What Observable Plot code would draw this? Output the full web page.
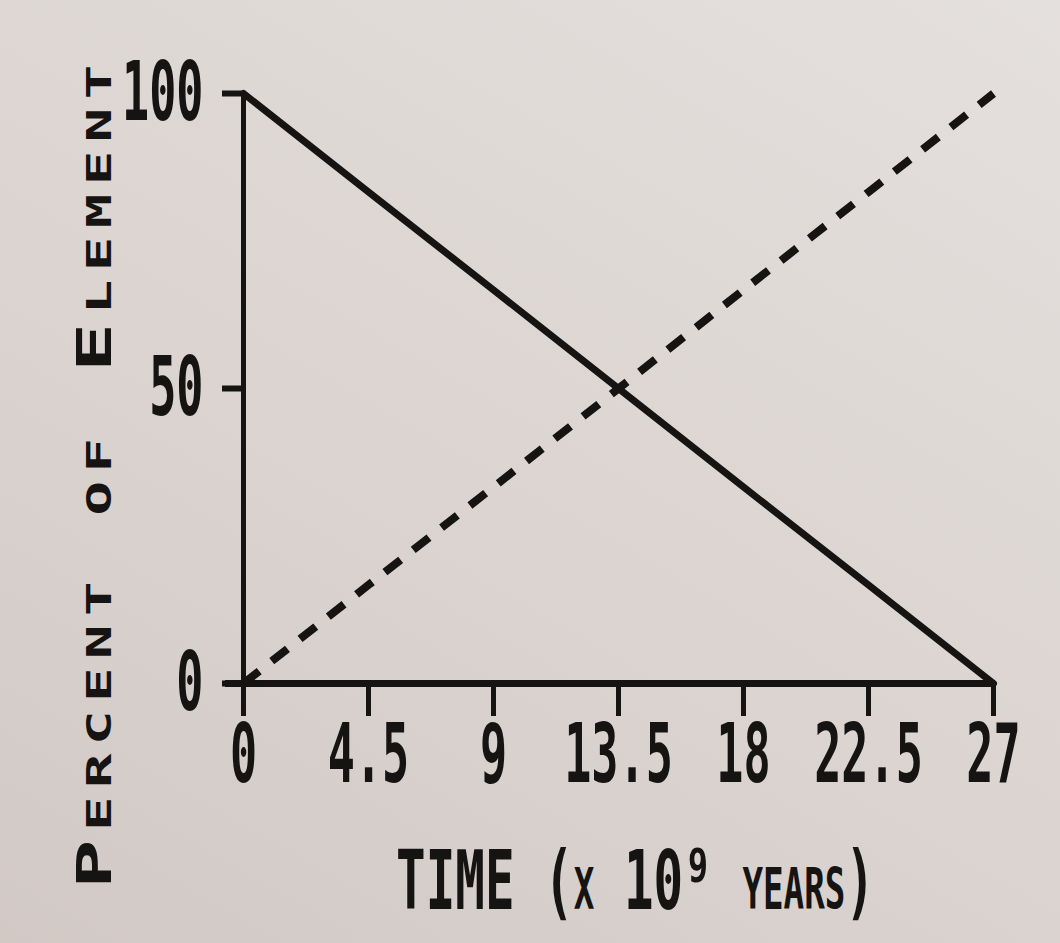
<!DOCTYPE html>
<html>
<head>
<meta charset="utf-8">
<script src="https://cdn.jsdelivr.net/npm/d3@7"></script>
<script src="https://cdn.jsdelivr.net/npm/@observablehq/plot@0.6"></script>
<style>
  html, body { margin: 0; padding: 0; }
  body {
    width: 1060px; height: 943px; overflow: hidden;
    background: linear-gradient(30deg, #d2c9c5 0%, #dbd4d1 45%, #e4e0dd 100%);
  }
  #chart svg { display: block; background: transparent; }
</style>
</head>
<body>
<div id="chart"></div>
<script>
// time in units of 10^9 years
const time = [0, 4.5, 9, 13.5, 18, 22.5, 27];
// percent of parent element left (solid) and of daughter element formed (dotted)
const parent = [100, 83.3, 66.7, 50, 33.3, 16.7, 0];
const daughter = [0, 16.7, 33.3, 50, 66.7, 83.3, 100];

const xTicks = [0, 4.5, 9, 13.5, 18, 22.5, 27];
const yTicks = [0, 50, 100];

const xLabel = "TIME (x 10⁹ years)";
const yLabel = "Percent of Element";

const ink = "#161313";
const mono = "'DejaVu Sans Mono', 'Liberation Mono', monospace";

const parentData = time.map((t, i) => ({t, v: parent[i]}));
const daughterData = time.map((t, i) => ({t, v: daughter[i]}));

let chart = Plot.plot({
  width: 1060,
  height: 943,
  marginLeft: 243,
  marginRight: 67,
  marginTop: 93,
  marginBottom: 260,
  x: {domain: [0, 27]},
  y: {domain: [0, 100]},
  style: {
    fontFamily: mono,
    fontSize: "82px",
    fontWeight: "bold",
    color: ink,
    background: "transparent",
  },
  marks: [
    Plot.axisY({
      ticks: yTicks,
      tickFormat: d => `${d}`,
      tickSize: 21,
      tickPadding: 19,
      strokeWidth: 6,
      label: null,
    }),
    Plot.axisX({
      ticks: xTicks,
      tickFormat: d => `${d}`,
      tickSize: 33,
      tickPadding: 7,
      strokeWidth: 5,
      label: null,
    }),
    Plot.ruleX([0], {stroke: ink, strokeWidth: 5}),
    Plot.ruleY([0], {stroke: ink, strokeWidth: 7, insetLeft: -18}),
    Plot.line(parentData, {
      x: "t", y: "v",
      stroke: ink, strokeWidth: 7,
    }),
    Plot.line(daughterData, {
      x: "t", y: "v",
      stroke: ink, strokeWidth: 8,
      strokeDasharray: "20,16",
      strokeLinecap: "butt",
    }),
    Plot.text([xLabel], {
      frameAnchor: "bottom",
      textAnchor: "middle",
      lineAnchor: "middle",
      dx: 17,
      dy: 199,
      fontSize: 82,
      fontVariant: "small-caps",
      fill: ink,
      className: "xlab",
    }),
    Plot.text([yLabel], {
      frameAnchor: "left",
      textAnchor: "middle",
      lineAnchor: "middle",
      rotate: -90,
      dx: -148,
      dy: 84,
      fontSize: 48,
      fontVariant: "small-caps",
      fill: ink,
      className: "ylab",
    }),
  ],
})

// dot-matrix printer letters: tall and narrow digits, wide label letters
function squeeze(sel, sx) {
  sel.attr("transform", function () {
    return (this.getAttribute("transform") || "") + ` scale(${sx},1)`;
  });
}
const svg = d3.select(chart);
squeeze(svg.selectAll("g[aria-label='x-axis tick label'] text"), 0.55);
squeeze(svg.selectAll("g[aria-label='y-axis tick label'] text"), 0.55);
squeeze(svg.selectAll(".xlab text"), 0.6);
squeeze(svg.selectAll(".ylab text"), 1.7);
svg.selectAll(".ylab text").style("letter-spacing", "5px");

d3.select('#chart').append(() => chart)
</script>
</body>
</html>
